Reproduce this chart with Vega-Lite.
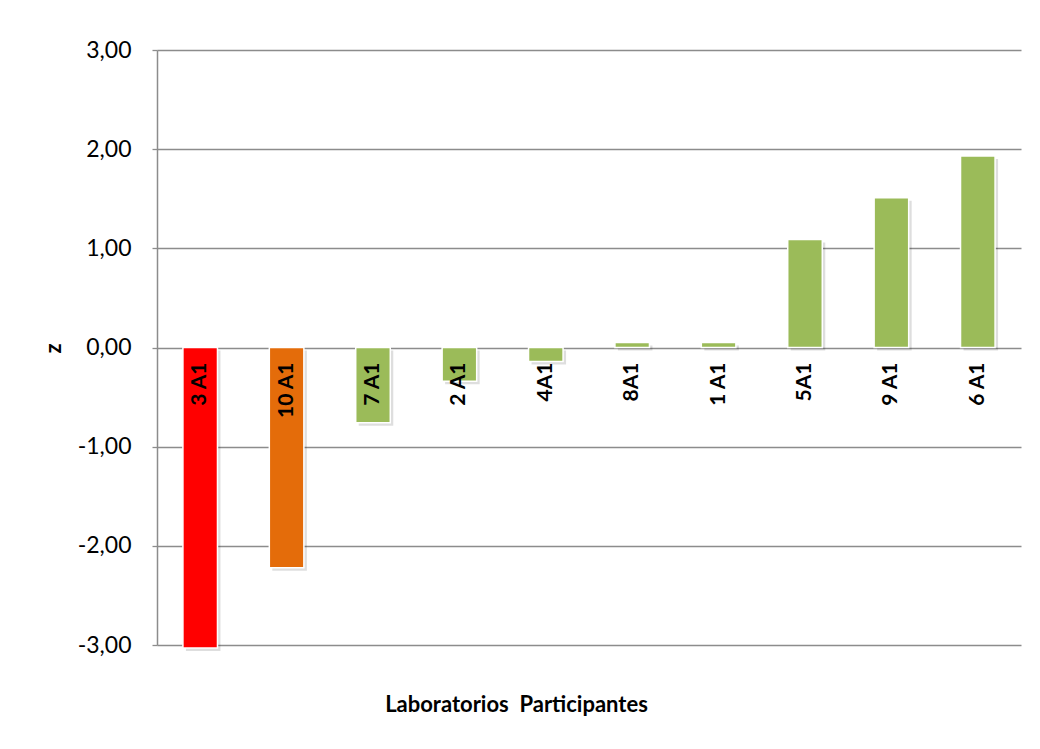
{
  "$schema": "https://vega.github.io/schema/vega-lite/v6.json",
  "width": 864,
  "height": 595,
  "autosize": {"type": "none"},
  "padding": {"left": 157, "top": 50, "right": 19, "bottom": 104},
  "background": "white",
  "config": {
    "view": {"stroke": null},
    "font": "Lato"
  },
  "data": {
    "values": [
      {"lab": "3 A1", "z": -3.03, "estado": "insatisfactorio"},
      {"lab": "10 A1", "z": -2.22, "estado": "cuestionable"},
      {"lab": "7 A1", "z": -0.76, "estado": "satisfactorio"},
      {"lab": "2 A1", "z": -0.34, "estado": "satisfactorio"},
      {"lab": "4A1", "z": -0.14, "estado": "satisfactorio"},
      {"lab": "8A1", "z": 0.05, "estado": "satisfactorio"},
      {"lab": "1 A1", "z": 0.05, "estado": "satisfactorio"},
      {"lab": "5A1", "z": 1.09, "estado": "satisfactorio"},
      {"lab": "9 A1", "z": 1.51, "estado": "satisfactorio"},
      {"lab": "6 A1", "z": 1.93, "estado": "satisfactorio"}
    ]
  },
  "encoding": {
    "x": {
      "field": "lab",
      "type": "nominal",
      "sort": null,
      "scale": {"paddingInner": 0.6, "paddingOuter": 0.3},
      "axis": {
        "title": "Laboratorios\u00a0 Participantes",
        "titleFont": "Lato",
        "titleFontSize": 22,
        "titleFontWeight": "bold",
        "titleColor": "#000000",
        "titleX": 359,
        "titleY": 59,
        "titleBaseline": "middle",
        "titleAnchor": null,
        "titleAlign": "center",
        "labels": false,
        "ticks": false,
        "domain": false,
        "grid": false
      }
    }
  },
  "layer": [
    {
      "mark": {"type": "bar", "color": "#000000", "opacity": 0.13, "xOffset": 3, "yOffset": 3, "x2Offset": 3, "y2Offset": 3},
      "encoding": {
        "y": {"field": "z", "type": "quantitative"}
      }
    },
    {
      "mark": {"type": "bar", "stroke": "#ffffff", "strokeWidth": 1.5},
      "encoding": {
        "y": {
          "field": "z",
          "type": "quantitative",
          "scale": {"domain": [-3, 3], "nice": false},
          "axis": {
            "values": [-3, -2, -1, 0, 1, 2, 3],
            "labelExpr": "(datum.value < 0 ? '-' : '') + replace(format(abs(datum.value), '.2f'), '.', ',')",
            "labelFont": "Lato",
            "labelFontSize": 23,
            "labelColor": "#000000",
            "labelPadding": 21,
            "tickSize": 5,
            "tickColor": "#8c8c8c",
            "tickWidth": 1.3,
            "domainColor": "#8c8c8c",
            "domainWidth": 1.5,
            "grid": true,
            "gridColor": "#8c8c8c",
            "gridWidth": 1.5,
            "title": "z",
            "titleFont": "Lato",
            "titleFontSize": 22,
            "titleFontWeight": "bold",
            "titleColor": "#000000",
            "titleAngle": 270,
            "titleX": -104,
            "titleY": 298,
            "titleBaseline": "middle",
            "titleAlign": "center"
          }
        },
        "color": {
          "field": "estado",
          "type": "nominal",
          "scale": {
            "domain": ["insatisfactorio", "cuestionable", "satisfactorio"],
            "range": ["#ff0000", "#e46c0a", "#9bbb59"]
          },
          "legend": null
        }
      }
    },
    {
      "mark": {
        "type": "text",
        "angle": 270,
        "align": "right",
        "baseline": "middle",
        "font": "Lato",
        "fontSize": 21,
        "fontWeight": "bold",
        "color": "#000000",
        "yOffset": 15
      },
      "encoding": {
        "y": {"datum": 0, "type": "quantitative"},
        "text": {"field": "lab"}
      }
    }
  ]
}
